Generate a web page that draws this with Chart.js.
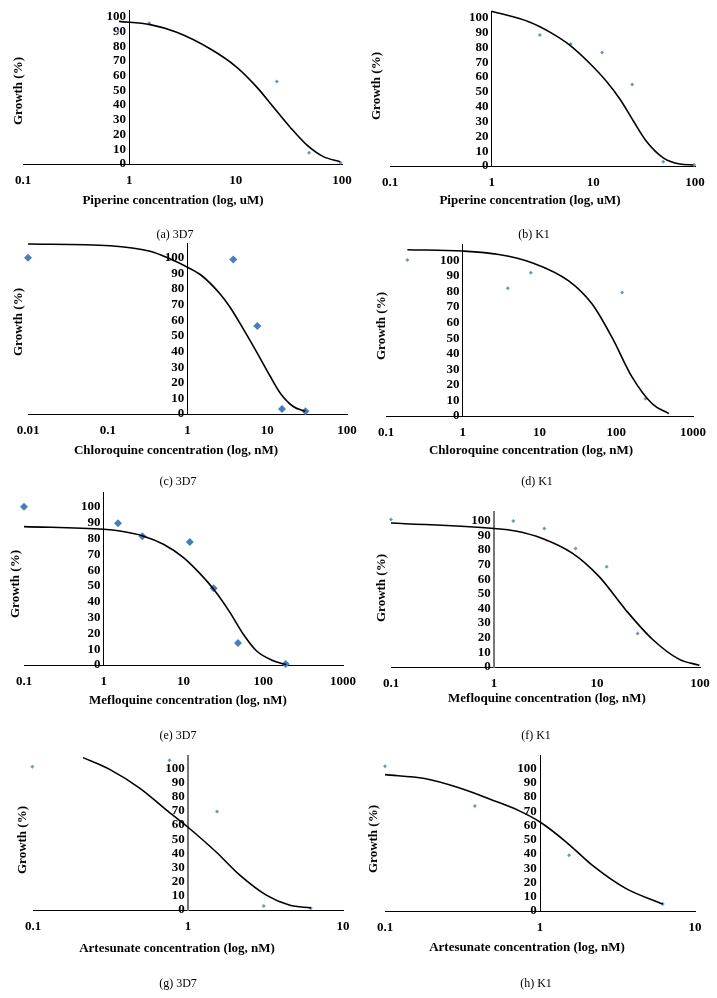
<!DOCTYPE html>
<html>
<head>
<meta charset="utf-8">
<script src="https://cdn.jsdelivr.net/npm/chart.js@4.4.0/dist/chart.umd.min.js"></script>
<style>
  body { margin: 0; background: #fff; width: 717px; height: 998px; position: relative; overflow: hidden; font-family: "Liberation Serif", "DejaVu Serif", serif; }
  canvas { position: absolute; }
  .xt { position: absolute; font-weight: bold; font-size: 13px; transform: translate(-50%, -50%); white-space: nowrap; }
  .yt { position: absolute; font-weight: bold; font-size: 13px; transform: translate(-50%, -50%) rotate(-90deg); white-space: nowrap; }
  .cap { position: absolute; font-size: 12px; transform: translate(-50%, -50%); white-space: nowrap; }
</style>
</head>
<body>
<script>
const aDose = [0.78, 1.54, 24.4, 49, 97];
const aGrowth = [90, 95.5, 56, 7.6, 0.9];
const aFitX = [0.8, 1.57, 2.79, 5.74, 10.2, 15.8, 22.6, 32.5, 46.6, 66.8, 96];
const aFitY = [96.8, 94.6, 89.4, 78.2, 65.8, 52.2, 38.7, 25, 13, 5, 1.6];
const aTicks = [0.1, 1, 10, 100];

const bDose = [2.98, 6, 12.2, 24.1, 48.7, 98];
const bGrowth = [88.4, 82.3, 76.5, 55, 2.9, 0.7];
const bFitX = [1, 2.38, 3.74, 5.9, 9.3, 13.5, 18.3, 24.7, 33.4, 48.7, 71, 96];
const bFitY = [104.4, 97, 90.3, 81.4, 69, 57, 45, 30.5, 16.5, 5.5, 1.3, 0.7];
const bTicks = [0.1, 1, 10, 100];

const cDose = [0.01, 3.75, 7.5, 15.3, 30.2];
const cGrowth = [100, 98.9, 56.4, 3.2, 1.7];
const cFitX = [0.01, 0.107, 0.34, 0.6, 1, 1.5, 2.55, 3.4, 5.0, 7.4, 10.8, 14.5, 21.2, 30];
const cFitY = [108.9, 107.8, 104.2, 99.4, 94, 88.7, 77, 68.5, 54.5, 39.5, 24.5, 13.5, 4.8, 1.7];
const cTicks = [0.01, 0.1, 1, 10, 100];

const dDose = [0.19, 3.86, 7.7, 119, 240];
const dGrowth = [100.2, 82.1, 92, 79.3, 11.1];
const dFitX = [0.19, 1, 2.95, 8, 24, 48.5, 88, 161, 294, 485];
const dFitY = [106.8, 106, 103.8, 98.5, 86.8, 71.9, 50.5, 25, 7.9, 1.5];
const dTicks = [0.1, 1, 10, 100, 1000];

const eDose = [0.1, 1.51, 3.05, 12, 23.9, 48.2, 191];
const eGrowth = [100.2, 89.7, 81.5, 77.9, 48.6, 13.9, 0.6];
const eFitX = [0.1, 1, 1.6, 3.1, 5.6, 10, 16, 24.7, 38, 56, 82, 133, 194];
const eFitY = [87.6, 85.9, 84.8, 81.7, 76.4, 68, 58, 47, 33.5, 19.6, 9, 2.7, 0.3];
const eTicks = [0.1, 1, 10, 100, 1000];

const fDose = [0.1, 1.54, 3.08, 6.2, 12.4, 24.8];
const fGrowth = [100.7, 99.7, 94.6, 81, 68.5, 22.9];
const fFitX = [0.1, 1, 1.62, 2.95, 5.8, 10.5, 19, 34.7, 63, 98.6];
const fFitY = [98.4, 94.6, 92.9, 87.8, 77.6, 61.7, 39, 18.8, 5.2, 1.2];
const fTicks = [0.1, 1, 10, 100];

const gDose = [0.099, 0.76, 1.54, 3.08, 6.2];
const gGrowth = [101.2, 105.9, 69.6, 2.8, 1.2];
const gFitX = [0.21, 0.31, 0.49, 0.72, 1, 1.52, 2.16, 3.2, 4.5, 6.2];
const gFitY = [107.7, 99.6, 86, 71, 58.5, 41, 24.6, 10.5, 3.5, 1.5];
const gTicks = [0.1, 1, 10];

const hDose = [0.1, 0.38, 1.54, 6.2];
const hGrowth = [101.6, 73.8, 39.2, 4.9];
const hFitX = [0.1, 0.18, 0.3, 0.49, 0.73, 1, 1.47, 2.17, 3.57, 6.2];
const hFitY = [95.8, 93, 86.5, 78, 70.5, 62.5, 48.6, 32.2, 15.9, 4.9];
const hTicks = [0.1, 1, 10];

const yTicks = [0, 10, 20, 30, 40, 50, 60, 70, 80, 90, 100];

// layout of each panel (pixels on the page)
const panels = [
  { dose: aDose, growth: aGrowth, fx: aFitX, fy: aFitY, ticks: aTicks, x0: 23, x1: 342, yBot: 164, y100: 16, ymax: 104, big: false, yAxisCol: '#000',
    xTitle: 'Piperine concentration (log, uM)', xtX: 173, xtY: 200, ytX: 18, ytY: 91, cap: '(a)  3D7', capX: 175, capY: 234 },
  { dose: bDose, growth: bGrowth, fx: bFitX, fy: bFitY, ticks: bTicks, x0: 390, x1: 695, yBot: 166, y100: 17.3, ymax: 104, big: false, yAxisCol: '#000',
    xTitle: 'Piperine concentration (log, uM)', xtX: 530, xtY: 200, ytX: 376, ytY: 86, cap: '(b)  K1', capX: 534, capY: 234 },
  { dose: cDose, growth: cGrowth, fx: cFitX, fy: cFitY, ticks: cTicks, x0: 28, x1: 347, yBot: 414.3, y100: 257.3, ymax: 109, big: true, yAxisCol: '#000',
    xTitle: 'Chloroquine concentration (log, nM)', xtX: 176, xtY: 450, ytX: 18, ytY: 322, cap: '(c)  3D7', capX: 178, capY: 481 },
  { dose: dDose, growth: dGrowth, fx: dFitX, fy: dFitY, ticks: dTicks, x0: 386.3, x1: 693, yBot: 415.7, y100: 259.3, ymax: 110, big: false, yAxisCol: '#000',
    xTitle: 'Chloroquine concentration (log, nM)', xtX: 531, xtY: 450, ytX: 381, ytY: 326, cap: '(d)  K1', capX: 537, capY: 481 },
  { dose: eDose, growth: eGrowth, fx: eFitX, fy: eFitY, ticks: eTicks, x0: 24, x1: 343.3, yBot: 664.3, y100: 506, ymax: 109, big: true, yAxisCol: '#000',
    xTitle: 'Mefloquine concentration (log, nM)', xtX: 188, xtY: 700, ytX: 15, ytY: 584, cap: '(e)  3D7', capX: 178, capY: 735 },
  { dose: fDose, growth: fGrowth, fx: fFitX, fy: fFitY, ticks: fTicks, x0: 391, x1: 699.7, yBot: 667.7, y100: 520.3, ymax: 106, big: false, yAxisCol: '#777',
    xTitle: 'Mefloquine concentration (log, nM)', xtX: 547, xtY: 698, ytX: 381, ytY: 588, cap: '(f)  K1', capX: 536, capY: 735 },
  { dose: gDose, growth: gGrowth, fx: gFitX, fy: gFitY, ticks: gTicks, x0: 33.3, x1: 343.3, yBot: 910, y100: 767.7, ymax: 109, big: false, yAxisCol: '#777',
    xTitle: 'Artesunate concentration (log, nM)', xtX: 177, xtY: 948, ytX: 22, ytY: 840, cap: '(g)  3D7', capX: 178, capY: 983 },
  { dose: hDose, growth: hGrowth, fx: hFitX, fy: hFitY, ticks: hTicks, x0: 384.7, x1: 694.7, yBot: 911, y100: 768.3, ymax: 109, big: false, yAxisCol: '#000',
    xTitle: 'Artesunate concentration (log, nM)', xtX: 527, xtY: 947, ytX: 373, ytY: 839, cap: '(h)  K1', capX: 536, capY: 983 }
];

const padL = 30, padR = 20, padT = 10, axisH = 32;
const tickFont = { family: '"Liberation Serif", serif', size: 13, weight: 'bold' };

function addText(cls, txt, x, y) {
  const d = document.createElement('div');
  d.className = cls;
  d.textContent = txt;
  d.style.left = x + 'px';
  d.style.top = y + 'px';
  document.body.appendChild(d);
}

panels.forEach(p => {
  const yTop = p.yBot - (p.yBot - p.y100) * p.ymax / 100;
  const left = Math.round(p.x0 - padL);
  const top = Math.round(yTop - padT);
  const w = Math.round(p.x1 - p.x0 + padL + padR);
  const h = Math.round(p.yBot - yTop + padT + axisH);

  const cv = document.createElement('canvas');
  cv.width = w; cv.height = h;
  cv.style.left = left + 'px'; cv.style.top = top + 'px';
  cv.style.width = w + 'px'; cv.style.height = h + 'px';
  document.body.appendChild(cv);

  new Chart(cv, {
    type: 'scatter',
    data: {
      datasets: [
        {
          data: p.fx.map((x, i) => ({ x, y: p.fy[i] })),
          showLine: true, borderColor: '#000', borderWidth: 1.6,
          pointRadius: 0, cubicInterpolationMode: 'monotone', clip: false
        },
        {
          data: p.dose.map((x, i) => ({ x, y: p.growth[i] })),
          pointStyle: 'rectRot', pointRadius: p.big ? 4 : 2,
          backgroundColor: p.big ? '#4a7ebb' : '#7094c9', borderWidth: 0, clip: false
        }
      ]
    },
    options: {
      responsive: false,
      animation: false,
      devicePixelRatio: 1,
      layout: { padding: { left: padL, right: padR, top: padT, bottom: 0 } },
      plugins: { legend: { display: false }, tooltip: { enabled: false } },
      scales: {
        x: {
          type: 'logarithmic', position: 'bottom',
          min: p.ticks[0], max: p.ticks[p.ticks.length - 1],
          grid: { display: false },
          border: { display: true, color: '#000', width: 1 },
          afterBuildTicks: s => { s.ticks = p.ticks.map(v => ({ value: v })); },
          afterFit: s => { s.height = axisH; },
          ticks: { color: '#000', font: tickFont, padding: 1, maxRotation: 0, autoSkip: false, callback: v => String(v) }
        },
        y: {
          type: 'linear', position: { x: 1 },
          min: 0, max: p.ymax,
          grid: { display: false },
          border: { display: true, color: p.yAxisCol, width: p.yAxisCol === '#000' ? 1 : 2 },
          afterBuildTicks: s => { s.ticks = yTicks.map(v => ({ value: v })); },
          ticks: { autoSkip: false, color: '#000', font: tickFont, callback: v => v + ' ' }
        }
      }
    }
  });

  addText('xt', p.xTitle, p.xtX, p.xtY);
  addText('yt', 'Growth (%)', p.ytX, p.ytY);
  addText('cap', p.cap, p.capX, p.capY);
});
</script>
</body>
</html>
